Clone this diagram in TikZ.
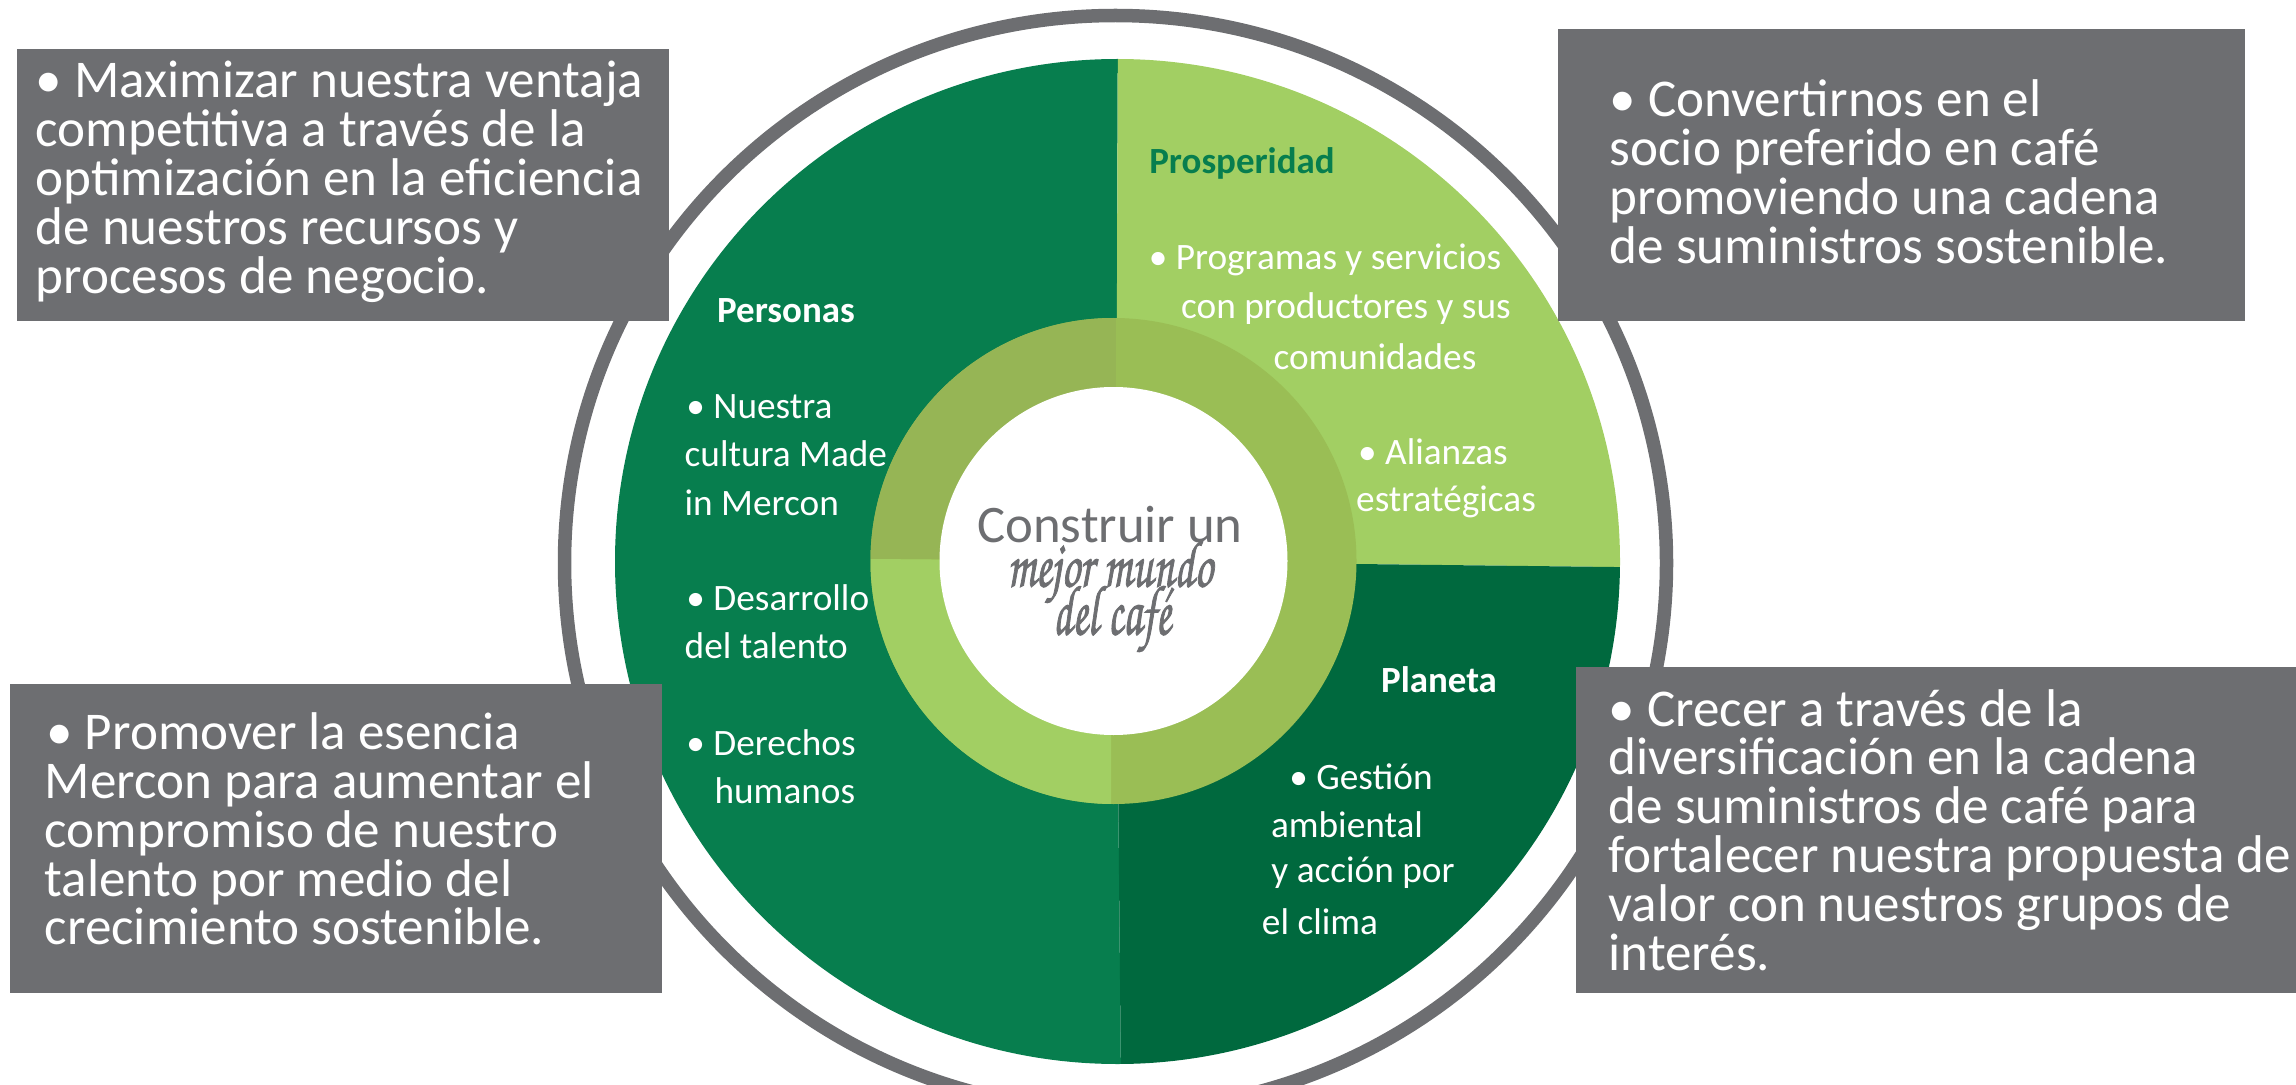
\documentclass[tikz,border=0pt]{standalone}
\usepackage{fontspec}
\usepackage[T1,TU]{fontenc}
\usepackage{xcolor}
\setmainfont{Carlito}
\definecolor{boxgrey}{HTML}{6D6E71}
\definecolor{personasgreen}{HTML}{077E4E}
\definecolor{planetagreen}{HTML}{00693E}
\definecolor{prosperidadgreen}{HTML}{A2CF63}
\definecolor{ringdark}{HTML}{96B555}
\definecolor{ringmid}{HTML}{9ABE55}
\tikzset{
  greybox/.style={fill=boxgrey,draw=none},
  boxtext/.style={text=white,anchor=west,align=left,inner sep=0pt,font=\fontsize{15.1}{13.9}\selectfont},
  itemtext/.style={text=white,anchor=west,align=left,inner sep=0pt,font=\fontsize{10.6}{13.7}\selectfont},
  itemline/.style={text=white,inner sep=0pt,font=\fontsize{10.6}{13.7}\selectfont},
  headtext/.style={text=white,inner sep=0pt,font=\fontsize{10.5}{13.7}\selectfont\bfseries},
  scripttext/.style={text=boxgrey,inner sep=0pt,transform shape,font=\fontsize{13}{13}\usefont{T1}{pzc}{mb}{it}\special{pdf:code 2 Tr 0.2 w}}
}
\begin{document}
\begin{tikzpicture}[x=0.01cm,y=-0.01cm]
\useasboundingbox (0,0) rectangle (2296,1085);

\draw [boxgrey, line width=3.84pt] (1115.5,563) ellipse [x radius=551, y radius=547.5];

\begin{scope}
\clip (1117.5,561.5) circle [radius=502.5];
\fill [personasgreen] (600,0) -- (1118,0) -- (1116,561) -- (1121,1085) -- (600,1085) -- cycle;
\fill [prosperidadgreen] (1118,0) -- (1700,0) -- (1700,568) -- (1356,564) -- (1116,561) -- cycle;
\fill [planetagreen] (1116,561) -- (1356,564) -- (1700,568) -- (1700,1085) -- (1121,1085) -- cycle;
\end{scope}

\fill [ringmid] (1113.5,561) circle [radius=243];
\begin{scope}
\clip (1113.5,561) circle [radius=243];
\fill [ringdark] (870,318) rectangle (1116,559);
\fill [prosperidadgreen] (870,559) -- (1116,561) -- (1111,561) -- (1111,804) -- (870,804) -- cycle;
\end{scope}
\fill [white] (1113.5,561) circle [radius=174];

\fill [greybox] (17,49) rectangle (669,321);
\fill [greybox] (1558,29) rectangle (2245,321);
\fill [greybox] (10,684) rectangle (662,993);
\fill [greybox] (1576,667) rectangle (2296,993);

\node [boxtext] (maximizar) at (35,182) {• Maximizar nuestra ventaja\\competitiva a través de la\\optimización en la eficiencia\\de nuestros recursos y\\procesos de negocio.};
\node [boxtext] (convertirnos) at (1609,172) {• Convertirnos en el\\socio preferido en café\\promoviendo una cadena\\de suministros sostenible.};
\node [boxtext] (promover) at (44,829) {\hspace{.5pt}• Promover la esencia\\Mercon para aumentar el\\compromiso de nuestro\\talento por medio del\\crecimiento sostenible.};
\node [boxtext] (crecer) at (1608,830) {• Crecer a través de la\\diversificación en la cadena\\de suministros de café para\\fortalecer nuestra propuesta de\\valor con nuestros grupos de\\interés.};

\node [headtext] (personas) at (786,311) {Personas};
\node [itemtext] (nuestra) at (684,455) {\hspace{.5pt}• Nuestra\\cultura Made\\in Mercon};
\node [itemtext] (desarrollo) at (684,622) {\hspace{.5pt}• Desarrollo\\del talento};
\node [itemtext] (derechos) at (684,767) {\hspace{.5pt}• Derechos\\\hspace{8.5pt}humanos};

\node [headtext, text=personasgreen] (prosperidad) at (1242,163) {Prosperidad};
\node [itemline] (programas) at (1325,260) {• Programas y servicios};
\node [itemline] (productores) at (1346,309) {con productores y sus};
\node [itemline] (comunidades) at (1375,357) {comunidades};
\node [itemline] (alianzas) at (1433,452) {• Alianzas};
\node [itemline] (estrategicas) at (1446,502) {estratégicas};

\node [headtext] (planeta) at (1439,680) {Planeta};
\node [itemline] (gestion) at (1361,777) {• Gestión};
\node [itemline] (ambiental) at (1347,825) {ambiental};
\node [itemline] (accion) at (1363,873) {y acción por};
\node [itemline] (clima) at (1320,922) {el clima};

\node [text=boxgrey, inner sep=0pt, font=\fontsize{15}{15}\selectfont] (construir) at (1110,525) {Construir un};
\node [scripttext, yscale=1.45] (mejor) at (1110,573) {mejor mundo};
\node [scripttext, yscale=1.6, font=\fontsize{12.6}{13}\usefont{T1}{pzc}{mb}{it}\special{pdf:code 2 Tr 0.2 w}] (cafe) at (1112,620) {del caf\'e};
\end{tikzpicture}
\end{document}
